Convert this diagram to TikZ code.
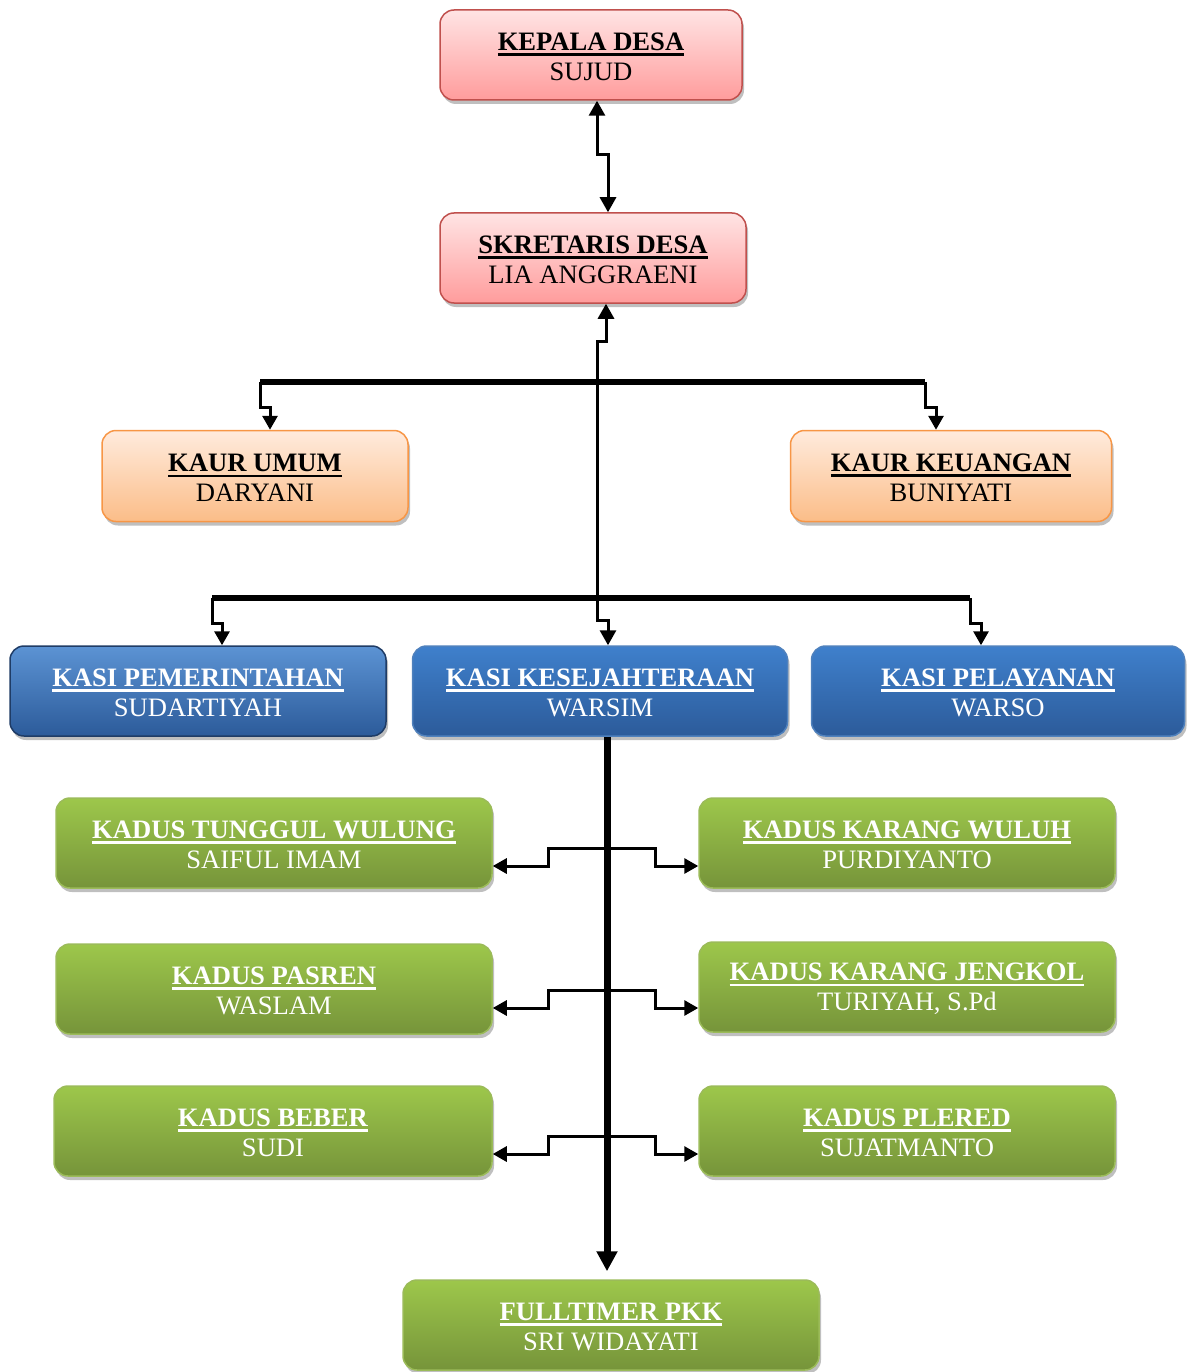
\documentclass[tikz,border=0pt]{standalone}
\usepackage{fontspec}
\setmainfont{Liberation Serif}
\usetikzlibrary{arrows.meta,calc,shadows}

\definecolor{pinkTop}{HTML}{FFE4E4}
\definecolor{pinkBot}{HTML}{FF9C9C}
\definecolor{pinkLine}{HTML}{C0504D}
\definecolor{orangeTop}{HTML}{FFEBDD}
\definecolor{orangeBot}{HTML}{FBBD88}
\definecolor{orangeLine}{HTML}{F79646}
\definecolor{blueTop}{HTML}{3F80CC}
\definecolor{blueBot}{HTML}{2C5B9A}
\definecolor{blueLine}{HTML}{4F81BD}
\definecolor{blueDark}{HTML}{1F3C66}
\definecolor{greenTop}{HTML}{9DC74B}
\definecolor{greenBot}{HTML}{76943A}
\definecolor{greenLine}{HTML}{9BBB59}

% heading: bold with a thick underline
\newsavebox{\hdbox}
\newcommand{\hd}[1]{\sbox{\hdbox}{\textbf{#1}}\rule{0pt}{21.5pt}\rlap{\rule[-5pt]{\wd\hdbox}{2.4pt}}\usebox{\hdbox}}

\begin{document}
\begin{tikzpicture}[x=1pt,y=-1pt,
  box/.style={rounded corners=14pt, line width=1.5pt, align=center, inner sep=0pt,
    minimum height=90pt, font=\fontsize{26.6}{29.5}\selectfont,
    drop shadow={shadow xshift=2pt, shadow yshift=-4pt, opacity=0.25, fill=black}},
  pinkbox/.style={box, draw=pinkLine, top color=pinkTop, bottom color=pinkBot},
  orangebox/.style={box, draw=orangeLine, top color=orangeTop, bottom color=orangeBot},
  bluebox/.style={box, draw=blueLine, top color=blueTop, bottom color=blueBot, text=white},
  greenbox/.style={box, draw=greenLine, top color=greenTop, bottom color=greenBot, text=white},
  lnk/.style={line width=3pt},
  bar/.style={line width=6.5pt},
  tip/.style={-{Triangle[length=14pt,width=15pt]}},
  tips/.style={{Triangle[length=15pt,width=16pt]}-{Triangle[length=15pt,width=16pt]}}]
  \useasboundingbox (0,0) rectangle (1190,1372);

  % boxes
  \node[pinkbox, minimum width=302pt] (kades) at (591,55) {\hd{KEPALA DESA}\\SUJUD};
  \node[pinkbox, minimum width=306pt] (sekdes) at (593,258) {\hd{SKRETARIS DESA}\\LIA ANGGRAENI};
  \node[orangebox, minimum width=306pt, minimum height=91pt] (kaurumum) at (255,476) {\hd{KAUR UMUM}\\DARYANI};
  \node[orangebox, minimum width=321pt, minimum height=91pt] (kaurkeu) at (951,476) {\hd{KAUR KEUANGAN}\\BUNIYATI};
  \node[bluebox, draw=blueDark, top color=blueTop!85!white, minimum width=376pt] (kasipem) at (198,691) {\hd{KASI PEMERINTAHAN}\\SUDARTIYAH};
  \node[bluebox, minimum width=375pt] (kasikes) at (600,691) {\hd{KASI KESEJAHTERAAN}\\WARSIM};
  \node[bluebox, minimum width=373pt] (kasipel) at (998,691) {\hd{KASI PELAYANAN}\\WARSO};
  \node[greenbox, minimum width=436pt] (tw) at (274,843) {\hd{KADUS TUNGGUL WULUNG}\\SAIFUL IMAM};
  \node[greenbox, minimum width=416pt] (kw) at (907,843) {\hd{KADUS KARANG WULUH}\\PURDIYANTO};
  \node[greenbox, minimum width=436pt] (ps) at (274,989) {\hd{KADUS PASREN}\\WASLAM};
  \node[greenbox, minimum width=416pt] (kj) at (907,987) {\hd{KADUS KARANG JENGKOL}\\TURIYAH, S.Pd};
  \node[greenbox, minimum width=438pt] (bb) at (273,1131) {\hd{KADUS BEBER}\\SUDI};
  \node[greenbox, minimum width=416pt] (pl) at (907,1131) {\hd{KADUS PLERED}\\SUJATMANTO};
  \node[greenbox, minimum width=416pt] (pkk) at (611,1325) {\hd{FULLTIMER PKK}\\SRI WIDAYATI};

  % kepala -- sekretaris
  \draw[lnk,tips] ([xshift=6pt]kades.south) -- ++(0,54) -| ([xshift=15pt]sekdes.north);
  % sekretaris -- kasi kesejahteraan
  \draw[lnk,tips] ([xshift=13pt]sekdes.south) -- ++(0,38) -| ++(-9,279) -| ([xshift=8pt]kasikes.north);

  % kaur
  \coordinate (kaurL) at (260,382);
  \coordinate (kaurR) at (925,382);
  \draw[bar] (kaurL) -- (kaurR);
  \draw[lnk,tip] (kaurL) -- ++(0,25) -| ([xshift=15pt]kaurumum.north);
  \draw[lnk,tip] (kaurR) -- ++(0,25) -| ([xshift=-15pt]kaurkeu.north);

  % kasi
  \coordinate (kasiL) at (212,598);
  \coordinate (kasiR) at (970,598);
  \draw[bar] (kasiL) -- (kasiR);
  \draw[lnk,tip] (kasiL) -- ++(0,25) -| ([xshift=24pt]kasipem.north);
  \draw[lnk,tip] (kasiR) -- ++(0,25) -| ([xshift=-17pt]kasipel.north);

  % kadus
  \coordinate (spine) at ([xshift=7pt]kasikes.south);
  \draw[line width=7pt,-{Triangle[length=20pt,width=20pt]}] (spine) -- ($(spine |- pkk.north)+(0,-8)$);
  \foreach \lft/\rgt/\ya/\yb in {tw/kw/848/866, ps/kj/990/1008, bb/pl/1136/1154} {
    \coordinate (hub) at (0,\ya);
    \coordinate (low) at (0,\yb);
    \draw[lnk,tip] (spine |- hub) -- ++(-59,0) |- (\lft.east |- low);
    \draw[lnk,tip] (spine |- hub) -- ++(48,0) |- (\rgt.west |- low);
  }
\end{tikzpicture}
\end{document}
